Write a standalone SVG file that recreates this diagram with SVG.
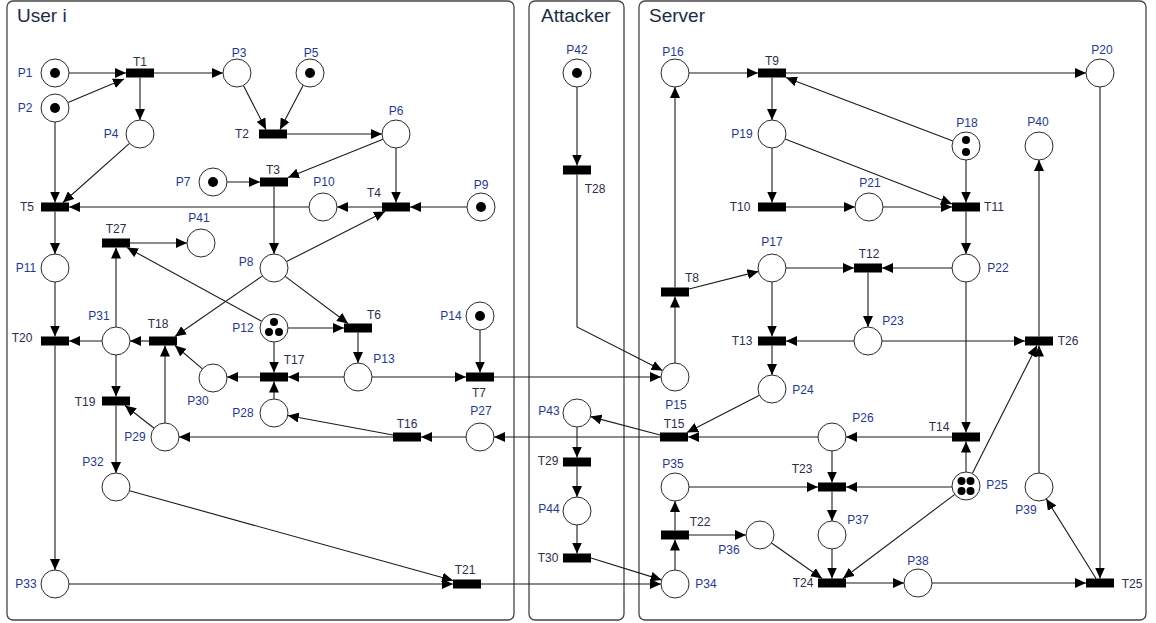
<svg xmlns="http://www.w3.org/2000/svg" width="1156" height="623" viewBox="0 0 1156 623">
  <style>
    .panel { fill: #ffffff; stroke: #454545; stroke-width: 1.3; }
    .title { font-family: "Liberation Sans", Arial, sans-serif; font-size: 19px; fill: #1e2a44; }
    .place { fill: #ffffff; stroke: #2a2a2a; stroke-width: 1; }
    .tok { fill: #000000; }
    .trans { fill: #000000; }
    .pl { font-family: "Liberation Sans", Arial, sans-serif; font-size: 12px; fill: #1f3796; text-anchor: middle; }
    .tl { font-family: "Liberation Sans", Arial, sans-serif; font-size: 12px; fill: #2c2c4c; text-anchor: middle; }
    .arc { fill: none; stroke: #1a1a1a; stroke-width: 1.1; marker-end: url(#arrow); }
  </style>
  <defs>
    <marker id="arrow" viewBox="0 0 11 10" refX="11" refY="5" markerWidth="11" markerHeight="10" markerUnits="userSpaceOnUse" orient="auto">
      <path d="M0,0 L11,5 L0,10 z" fill="#000000"/>
    </marker>
  </defs>

  <rect width="1156" height="623" fill="#ffffff"/>

  <!-- swimlanes -->
  <g id="lanes">
    <rect class="panel" x="7" y="1" width="507" height="619" rx="6"/>
    <rect class="panel" x="529" y="1" width="95" height="619" rx="6"/>
    <rect class="panel" x="639" y="1" width="507" height="619" rx="6"/>
    <text class="title" x="17" y="22">User i</text>
    <text class="title" x="541" y="22">Attacker</text>
    <text class="title" x="649" y="22">Server</text>
  </g>

  <!-- arcs -->
  <g id="connectors">
    <!-- User i -->
    <path class="arc" d="M69,73 H126"/>
    <path class="arc" d="M68,102.6 L124,79"/>
    <path class="arc" d="M154,73 H223"/>
    <path class="arc" d="M140,77.5 V120"/>
    <path class="arc" d="M243.4,85.4 L266,129.5"/>
    <path class="arc" d="M303.2,85.3 L280,129.5"/>
    <path class="arc" d="M287,134 H382"/>
    <path class="arc" d="M55,122 V202.5"/>
    <path class="arc" d="M129.5,143.3 L63,202.5"/>
    <path class="arc" d="M309,207 H69"/>
    <path class="arc" d="M227,182 H260"/>
    <path class="arc" d="M383,139.2 L288,177.5"/>
    <path class="arc" d="M396,148 V202.5"/>
    <path class="arc" d="M382,207 H337"/>
    <path class="arc" d="M467,207 H410"/>
    <path class="arc" d="M274,186.5 V254"/>
    <path class="arc" d="M286.5,261.6 L385,211.5"/>
    <path class="arc" d="M55,211.5 V254"/>
    <path class="arc" d="M130,243 H187"/>
    <path class="arc" d="M261.7,321.3 L127,247.5"/>
    <path class="arc" d="M262.5,275.9 L175,336.5"/>
    <path class="arc" d="M285.2,276.4 L348,323.5"/>
    <path class="arc" d="M288,328 H344"/>
    <path class="arc" d="M358,332.5 V363"/>
    <path class="arc" d="M274,342 V372.5"/>
    <path class="arc" d="M344,377 H288"/>
    <path class="arc" d="M372,377 H466"/>
    <path class="arc" d="M494,377 H661"/>
    <path class="arc" d="M480,330 V372.5"/>
    <path class="arc" d="M260,377 H227"/>
    <path class="arc" d="M274,399 V381.5"/>
    <path class="arc" d="M202.4,368.8 L175,345.5"/>
    <path class="arc" d="M149,341 H130"/>
    <path class="arc" d="M102,341 H69"/>
    <path class="arc" d="M55,282 V336.5"/>
    <path class="arc" d="M116,327 V247.5"/>
    <path class="arc" d="M116,355 V396.5"/>
    <path class="arc" d="M165,423 V345.5"/>
    <path class="arc" d="M154.1,428.3 L125,405.5"/>
    <path class="arc" d="M116,405.5 V473"/>
    <path class="arc" d="M55,345.5 V570"/>
    <path class="arc" d="M69,584 H453"/>
    <path class="arc" d="M129.5,490.7 L453,580.5"/>
    <path class="arc" d="M481,584 H661"/>
    <path class="arc" d="M393,437 H179"/>
    <path class="arc" d="M393,435 L287.8,415.5"/>
    <path class="arc" d="M466,437 H421"/>
    <path class="arc" d="M660,437 H494"/>
    <path class="arc" d="M660,435 L590.5,416.6"/>
    <!-- Attacker -->
    <path class="arc" d="M577,87 V165.5"/>
    <path class="arc" d="M577,174.5 V327 L662.5,370.6"/>
    <path class="arc" d="M577,427 V457.5"/>
    <path class="arc" d="M577,466.5 V497"/>
    <path class="arc" d="M577,525 V553.5"/>
    <path class="arc" d="M591,558 L661.6,579.9"/>
    <!-- Server -->
    <path class="arc" d="M675,363 V296.5"/>
    <path class="arc" d="M675,287.5 V87"/>
    <path class="arc" d="M689,289 L758.4,271.4"/>
    <path class="arc" d="M689,73 H758"/>
    <path class="arc" d="M786,73 H1086"/>
    <path class="arc" d="M772,77.5 V120"/>
    <path class="arc" d="M952.9,141.1 L786,77.5"/>
    <path class="arc" d="M772,148 V202.5"/>
    <path class="arc" d="M785.1,139.1 L952,204"/>
    <path class="arc" d="M786,207 H855"/>
    <path class="arc" d="M883,207 H952"/>
    <path class="arc" d="M966,160 V202.5"/>
    <path class="arc" d="M966,211.5 V254"/>
    <path class="arc" d="M786,268 H854"/>
    <path class="arc" d="M952,268 H882"/>
    <path class="arc" d="M868,272.5 V327"/>
    <path class="arc" d="M772,282 V336.5"/>
    <path class="arc" d="M854,341 H786"/>
    <path class="arc" d="M882,341 H1025"/>
    <path class="arc" d="M1039,336.5 V160"/>
    <path class="arc" d="M772,345.5 V375"/>
    <path class="arc" d="M759.5,395.3 L687,432.5"/>
    <path class="arc" d="M966,282 V432.5"/>
    <path class="arc" d="M952,437 H846"/>
    <path class="arc" d="M818,437 H688"/>
    <path class="arc" d="M832,451 V482.5"/>
    <path class="arc" d="M966,472 V441.5"/>
    <path class="arc" d="M972.3,473.5 L1037,345.5"/>
    <path class="arc" d="M1039,473 V345.5"/>
    <path class="arc" d="M952,487 H846"/>
    <path class="arc" d="M689,487 H818"/>
    <path class="arc" d="M832,491.5 V521"/>
    <path class="arc" d="M832,549 V578.5"/>
    <path class="arc" d="M771.5,543 L822,578.5"/>
    <path class="arc" d="M954.8,494.4 L843,578.5"/>
    <path class="arc" d="M846,583 H904"/>
    <path class="arc" d="M932,583 H1086"/>
    <path class="arc" d="M1100,87 V578.5"/>
    <path class="arc" d="M1096,578.5 L1046.3,498.9"/>
    <path class="arc" d="M675,570 V539.5"/>
    <path class="arc" d="M675,530.5 V501"/>
    <path class="arc" d="M689,535 H746"/>
  </g>

  <!-- places -->
  <g id="P1"><circle class="place" cx="55" cy="73" r="14"/><circle class="tok" cx="55" cy="73" r="5"/><text class="pl" x="25" y="77">P1</text></g>
  <g id="P2"><circle class="place" cx="55" cy="108" r="14"/><circle class="tok" cx="55" cy="108" r="5"/><text class="pl" x="25" y="112">P2</text></g>
  <g id="P3"><circle class="place" cx="237" cy="73" r="14"/><text class="pl" x="239" y="57">P3</text></g>
  <g id="P4"><circle class="place" cx="140" cy="134" r="14"/><text class="pl" x="111" y="138">P4</text></g>
  <g id="P5"><circle class="place" cx="310" cy="73" r="14"/><circle class="tok" cx="310" cy="73" r="5"/><text class="pl" x="311" y="57">P5</text></g>
  <g id="P6"><circle class="place" cx="396" cy="134" r="14"/><text class="pl" x="396" y="115">P6</text></g>
  <g id="P7"><circle class="place" cx="213" cy="182" r="14"/><circle class="tok" cx="213" cy="182" r="5"/><text class="pl" x="183" y="186">P7</text></g>
  <g id="P8"><circle class="place" cx="274" cy="268" r="14"/><text class="pl" x="246" y="266">P8</text></g>
  <g id="P9"><circle class="place" cx="481" cy="207" r="14"/><circle class="tok" cx="481" cy="207" r="5"/><text class="pl" x="481" y="189">P9</text></g>
  <g id="P10"><circle class="place" cx="323" cy="207" r="14"/><text class="pl" x="324" y="186">P10</text></g>
  <g id="P11"><circle class="place" cx="55" cy="268" r="14"/><text class="pl" x="26" y="272">P11</text></g>
  <g id="P12"><circle class="place" cx="274" cy="328" r="14"/><circle class="tok" cx="274" cy="322" r="4"/><circle class="tok" cx="269" cy="332" r="4"/><circle class="tok" cx="279" cy="332" r="4"/><text class="pl" x="243" y="332">P12</text></g>
  <g id="P13"><circle class="place" cx="358" cy="377" r="14"/><text class="pl" x="384" y="363">P13</text></g>
  <g id="P14"><circle class="place" cx="480" cy="316" r="14"/><circle class="tok" cx="480" cy="316" r="5"/><text class="pl" x="451" y="320">P14</text></g>
  <g id="P15"><circle class="place" cx="675" cy="377" r="14"/><text class="pl" x="676" y="409">P15</text></g>
  <g id="P16"><circle class="place" cx="675" cy="73" r="14"/><text class="pl" x="673" y="56">P16</text></g>
  <g id="P17"><circle class="place" cx="772" cy="268" r="14"/><text class="pl" x="772" y="246">P17</text></g>
  <g id="P18"><circle class="place" cx="966" cy="146" r="14"/><circle class="tok" cx="966" cy="140" r="4"/><circle class="tok" cx="966" cy="152" r="4"/><text class="pl" x="967" y="127">P18</text></g>
  <g id="P19"><circle class="place" cx="772" cy="134" r="14"/><text class="pl" x="742" y="138">P19</text></g>
  <g id="P20"><circle class="place" cx="1100" cy="73" r="14"/><text class="pl" x="1102" y="54">P20</text></g>
  <g id="P21"><circle class="place" cx="869" cy="207" r="14"/><text class="pl" x="870" y="187">P21</text></g>
  <g id="P22"><circle class="place" cx="966" cy="268" r="14"/><text class="pl" x="998" y="272">P22</text></g>
  <g id="P23"><circle class="place" cx="868" cy="341" r="14"/><text class="pl" x="893" y="325">P23</text></g>
  <g id="P24"><circle class="place" cx="772" cy="389" r="14"/><text class="pl" x="803" y="394">P24</text></g>
  <g id="P25"><circle class="place" cx="966" cy="486" r="14"/><circle class="tok" cx="961.5" cy="481" r="4"/><circle class="tok" cx="970.5" cy="481" r="4"/><circle class="tok" cx="961.5" cy="491" r="4"/><circle class="tok" cx="970.5" cy="491" r="4"/><text class="pl" x="997" y="489">P25</text></g>
  <g id="P26"><circle class="place" cx="832" cy="437" r="14"/><text class="pl" x="863" y="422">P26</text></g>
  <g id="P27"><circle class="place" cx="480" cy="437" r="14"/><text class="pl" x="481" y="415">P27</text></g>
  <g id="P28"><circle class="place" cx="274" cy="413" r="14"/><text class="pl" x="243" y="417">P28</text></g>
  <g id="P29"><circle class="place" cx="165" cy="437" r="14"/><text class="pl" x="135" y="441">P29</text></g>
  <g id="P30"><circle class="place" cx="213" cy="378" r="14"/><text class="pl" x="198" y="405">P30</text></g>
  <g id="P31"><circle class="place" cx="116" cy="341" r="14"/><text class="pl" x="99" y="320">P31</text></g>
  <g id="P32"><circle class="place" cx="116" cy="487" r="14"/><text class="pl" x="93" y="466">P32</text></g>
  <g id="P33"><circle class="place" cx="55" cy="584" r="14"/><text class="pl" x="26" y="588">P33</text></g>
  <g id="P34"><circle class="place" cx="675" cy="584" r="14"/><text class="pl" x="706" y="588">P34</text></g>
  <g id="P35"><circle class="place" cx="675" cy="487" r="14"/><text class="pl" x="673" y="468">P35</text></g>
  <g id="P36"><circle class="place" cx="760" cy="535" r="14"/><text class="pl" x="729" y="554">P36</text></g>
  <g id="P37"><circle class="place" cx="832" cy="535" r="14"/><text class="pl" x="858" y="524">P37</text></g>
  <g id="P38"><circle class="place" cx="918" cy="583" r="14"/><text class="pl" x="918" y="565">P38</text></g>
  <g id="P39"><circle class="place" cx="1039" cy="487" r="14"/><text class="pl" x="1026" y="514">P39</text></g>
  <g id="P40"><circle class="place" cx="1039" cy="146" r="14"/><text class="pl" x="1038" y="126">P40</text></g>
  <g id="P41"><circle class="place" cx="201" cy="243" r="14"/><text class="pl" x="199" y="222">P41</text></g>
  <g id="P42"><circle class="place" cx="577" cy="73" r="14"/><circle class="tok" cx="577" cy="73" r="5"/><text class="pl" x="577" y="54">P42</text></g>
  <g id="P43"><circle class="place" cx="577" cy="413" r="14"/><text class="pl" x="549" y="415">P43</text></g>
  <g id="P44"><circle class="place" cx="577" cy="511" r="14"/><text class="pl" x="549" y="513">P44</text></g>

  <!-- transitions -->
  <g id="T1"><rect class="trans" x="126" y="68.5" width="28" height="9"/><text class="tl" x="140" y="66">T1</text></g>
  <g id="T2"><rect class="trans" x="259" y="129.5" width="28" height="9"/><text class="tl" x="242" y="138">T2</text></g>
  <g id="T3"><rect class="trans" x="260" y="177.5" width="28" height="9"/><text class="tl" x="273" y="174">T3</text></g>
  <g id="T4"><rect class="trans" x="382" y="202.5" width="28" height="9"/><text class="tl" x="374" y="197">T4</text></g>
  <g id="T5"><rect class="trans" x="41" y="202.5" width="28" height="9"/><text class="tl" x="27" y="211">T5</text></g>
  <g id="T6"><rect class="trans" x="344" y="323.5" width="28" height="9"/><text class="tl" x="374" y="319">T6</text></g>
  <g id="T7"><rect class="trans" x="466" y="372.5" width="28" height="9"/><text class="tl" x="479" y="397">T7</text></g>
  <g id="T8"><rect class="trans" x="661" y="287.5" width="28" height="9"/><text class="tl" x="692" y="282">T8</text></g>
  <g id="T9"><rect class="trans" x="758" y="68.5" width="28" height="9"/><text class="tl" x="772" y="65">T9</text></g>
  <g id="T10"><rect class="trans" x="758" y="202.5" width="28" height="9"/><text class="tl" x="740" y="211">T10</text></g>
  <g id="T11"><rect class="trans" x="952" y="202.5" width="28" height="9"/><text class="tl" x="994" y="211">T11</text></g>
  <g id="T12"><rect class="trans" x="854" y="263.5" width="28" height="9"/><text class="tl" x="869" y="258">T12</text></g>
  <g id="T13"><rect class="trans" x="758" y="336.5" width="28" height="9"/><text class="tl" x="742" y="345">T13</text></g>
  <g id="T14"><rect class="trans" x="952" y="432.5" width="28" height="9"/><text class="tl" x="939" y="431">T14</text></g>
  <g id="T15"><rect class="trans" x="660" y="432.5" width="28" height="9"/><text class="tl" x="674" y="428">T15</text></g>
  <g id="T16"><rect class="trans" x="393" y="432.5" width="28" height="9"/><text class="tl" x="407" y="428">T16</text></g>
  <g id="T17"><rect class="trans" x="260" y="372.5" width="28" height="9"/><text class="tl" x="294" y="364">T17</text></g>
  <g id="T18"><rect class="trans" x="149" y="336.5" width="28" height="9"/><text class="tl" x="158" y="328">T18</text></g>
  <g id="T19"><rect class="trans" x="102" y="396.5" width="28" height="9"/><text class="tl" x="85" y="406">T19</text></g>
  <g id="T20"><rect class="trans" x="41" y="336.5" width="28" height="9"/><text class="tl" x="22" y="342">T20</text></g>
  <g id="T21"><rect class="trans" x="453" y="579.5" width="28" height="9"/><text class="tl" x="465" y="574">T21</text></g>
  <g id="T22"><rect class="trans" x="661" y="530.5" width="28" height="9"/><text class="tl" x="700" y="526">T22</text></g>
  <g id="T23"><rect class="trans" x="818" y="482.5" width="28" height="9"/><text class="tl" x="802" y="473">T23</text></g>
  <g id="T24"><rect class="trans" x="818" y="578.5" width="28" height="9"/><text class="tl" x="803" y="587">T24</text></g>
  <g id="T25"><rect class="trans" x="1086" y="578.5" width="28" height="9"/><text class="tl" x="1132" y="588">T25</text></g>
  <g id="T26"><rect class="trans" x="1025" y="336.5" width="28" height="9"/><text class="tl" x="1068" y="345">T26</text></g>
  <g id="T27"><rect class="trans" x="102" y="238.5" width="28" height="9"/><text class="tl" x="116" y="233">T27</text></g>
  <g id="T28"><rect class="trans" x="563" y="165.5" width="28" height="9"/><text class="tl" x="595" y="193">T28</text></g>
  <g id="T29"><rect class="trans" x="563" y="457.5" width="28" height="9"/><text class="tl" x="548" y="465">T29</text></g>
  <g id="T30"><rect class="trans" x="563" y="553.5" width="28" height="9"/><text class="tl" x="548" y="562">T30</text></g>
</svg>
